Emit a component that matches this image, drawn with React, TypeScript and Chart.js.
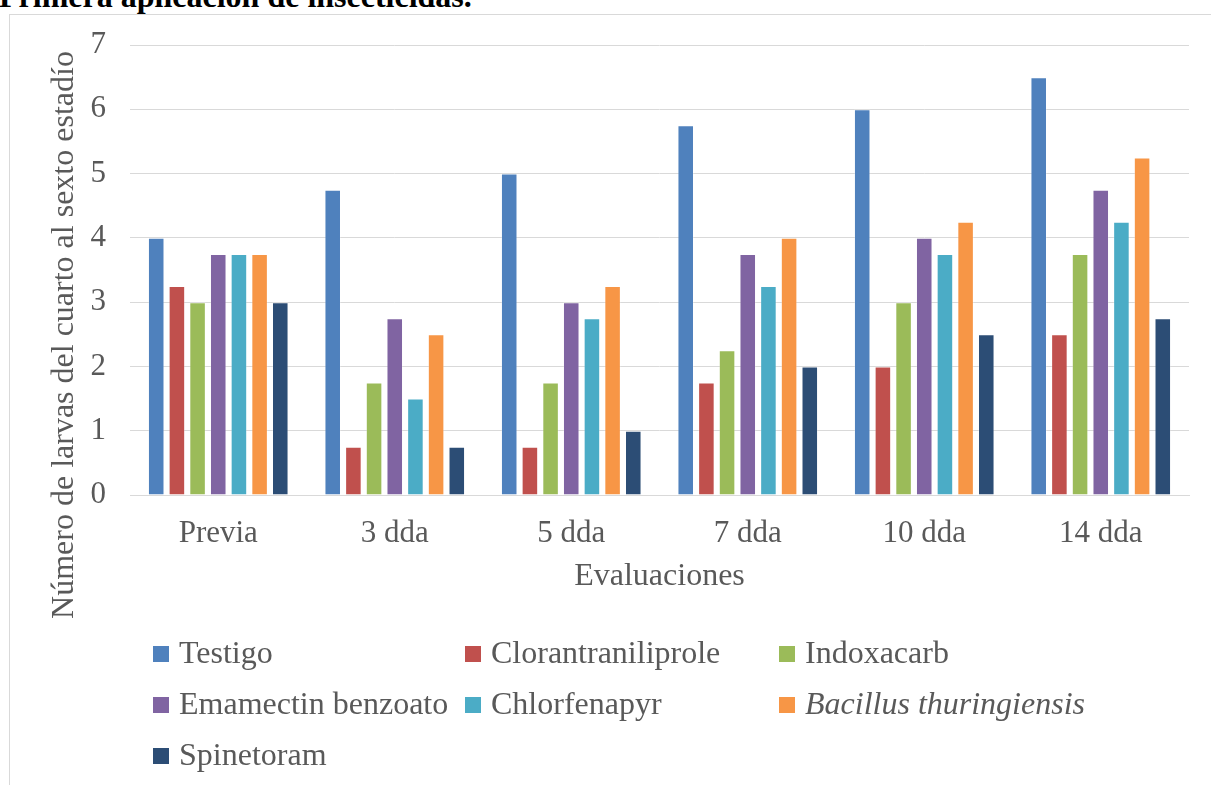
import React, { useEffect, useRef } from "react";
import { Chart, registerables } from "chart.js";

Chart.register(...registerables);

const categories = ["Previa", "3 dda", "5 dda", "7 dda", "10 dda", "14 dda"];
const testigo = [4, 4.75, 5, 5.75, 6, 6.5];
const clorantraniliprole = [3.25, 0.75, 0.75, 1.75, 2, 2.5];
const indoxacarb = [3, 1.75, 1.75, 2.25, 3, 3.75];
const emamectin = [3.75, 2.75, 3, 3.75, 4, 4.75];
const chlorfenapyr = [3.75, 1.5, 2.75, 3.25, 3.75, 4.25];
const bacillus = [3.75, 2.5, 3.25, 4, 4.25, 5.25];
const spinetoram = [3, 0.75, 1, 2, 2.5, 2.75];
const seriesNames = [
  "Testigo",
  "Clorantraniliprole",
  "Indoxacarb",
  "Emamectin benzoato",
  "Chlorfenapyr",
  "Bacillus thuringiensis",
  "Spinetoram",
];
const seriesColors = ["#4F81BD", "#C0504D", "#9BBB59", "#8064A2", "#4BACC6", "#F79646", "#2C4D75"];
const seriesItalic = [false, false, false, false, false, true, false];
const yTitle = "Número de larvas del cuarto al sexto estadío";
const xTitle = "Evaluaciones";
const chartTitle = "Primera aplicación de insecticidas.";

const FONT = "'Liberation Serif', 'Times New Roman', serif";
const TEXT = "#595959";

const legendPlugin = {
  id: "customLegend",
  afterDraw(chart: any) {
    const ctx = chart.ctx;
    const cols = [153, 465, 779];
    const rows = [654, 705, 756];
    ctx.save();
    seriesNames.forEach((name, i) => {
      const col = i % 3;
      const row = Math.floor(i / 3);
      const x = cols[col];
      const y = rows[row];
      ctx.fillStyle = seriesColors[i];
      ctx.fillRect(x, y - 8, 16, 16);
      ctx.fillStyle = TEXT;
      ctx.font = `${seriesItalic[i] ? "italic " : ""}32px ${FONT}`;
      ctx.textBaseline = "middle";
      ctx.textAlign = "left";
      ctx.fillText(name, x + 26, y + 1);
    });
    // y axis title
    ctx.translate(65, 335);
    ctx.rotate(-Math.PI / 2);
    ctx.font = `32px ${FONT}`;
    ctx.textAlign = "center";
    ctx.textBaseline = "middle";
    ctx.fillStyle = TEXT;
    ctx.fillText(yTitle, 0, 0);
    ctx.restore();
  },
};

export default function App() {
  const ref = useRef<HTMLCanvasElement>(null);
  useEffect(() => {
    const data = [testigo, clorantraniliprole, indoxacarb, emamectin, chlorfenapyr, bacillus, spinetoram];
    const chart = new Chart(ref.current!, {
      type: "bar",
      data: {
        labels: categories,
        datasets: data.map((d, i) => ({
          label: seriesNames[i],
          data: d,
          backgroundColor: seriesColors[i],
          borderColor: "rgba(255,255,255,0.25)",
          borderWidth: 1,
          categoryPercentage: 0.82,
          barPercentage: 0.8,
        })),
      },
      options: {
        responsive: false,
        animation: false,
        devicePixelRatio: 1,
        layout: { padding: { left: 10, right: 22, top: 45, bottom: 185 } },
        plugins: {
          legend: { display: false },
          tooltip: { enabled: false },
          title: { display: false },
        },
        scales: {
          x: {
            grid: { display: false, drawTicks: false },
            border: { display: true, color: "#d9d9d9", width: 1 },
            ticks: { font: { family: FONT, size: 31 }, color: TEXT, padding: 20 },
            title: {
              display: true,
              text: xTitle,
              font: { family: FONT, size: 32 },
              color: TEXT,
              padding: { top: 5 },
            },
            afterFit: (s: any) => {
              s.height = 105;
            },
          },
          y: {
            min: 0,
            max: 7,
            ticks: { stepSize: 1, font: { family: FONT, size: 31 }, color: TEXT, padding: 24 },
            grid: { color: "#d9d9d9", drawTicks: false, lineWidth: 1 },
            border: { display: false },
            afterFit: (s: any) => {
              s.width = 120;
            },
          },
        },
      },
      plugins: [legendPlugin],
    });
    return () => chart.destroy();
  }, []);
  return (
    <div
      style={{
        position: "fixed",
        left: 0,
        top: 0,
        width: 1211,
        height: 785,
        overflow: "hidden",
        background: "#fff",
      }}
    >
      <div
        style={{
          position: "absolute",
          left: -1,
          top: -22,
          fontFamily: FONT,
          fontWeight: "bold",
          fontSize: 32,
          lineHeight: "normal",
          color: "#000",
          whiteSpace: "nowrap",
        }}
      >
        {chartTitle}
      </div>
      <div
        style={{
          position: "absolute",
          left: 9,
          top: 14,
          width: 1300,
          height: 900,
          border: "1px solid #d9d9d9",
          boxSizing: "border-box",
        }}
      />
      <canvas ref={ref} width={1211} height={785} style={{ position: "absolute", left: 0, top: 0 }} />
    </div>
  );
}
